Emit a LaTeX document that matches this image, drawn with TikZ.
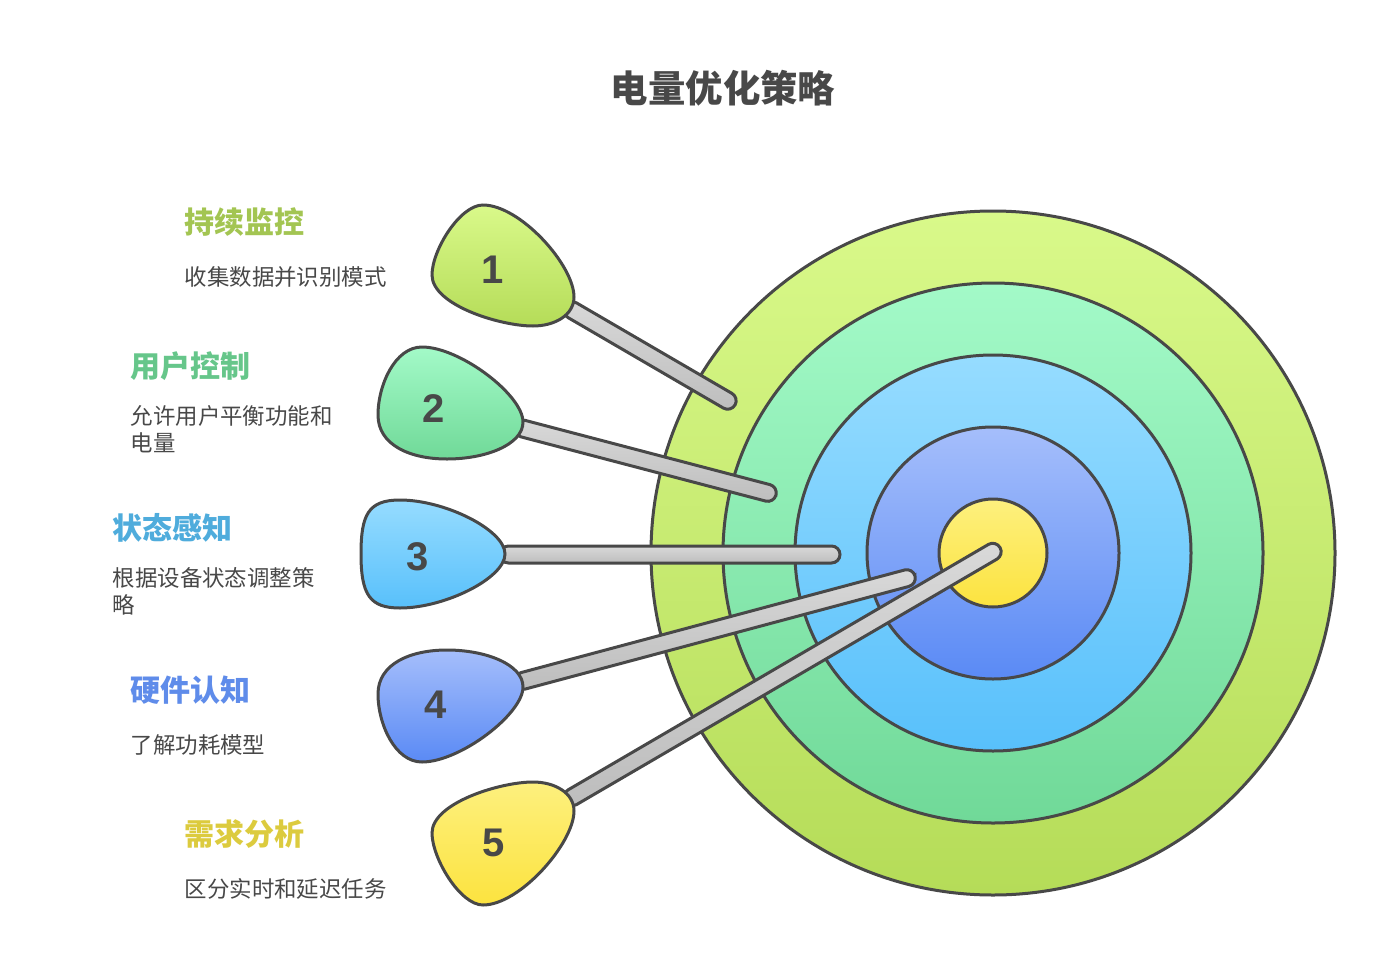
\documentclass[tikz,border=0pt]{standalone}
\usepackage{fontspec}
\usepackage{xcolor}
\usepackage{tikz}
\usetikzlibrary{calc}
\setmainfont{Noto Sans CJK SC}
\newfontfamily\digitfont{Liberation Sans}

\definecolor{ink}{HTML}{484848}
\definecolor{limetop}{HTML}{D9F98A}
\definecolor{limebot}{HTML}{B5DC58}
\definecolor{minttop}{HTML}{A3FAC8}
\definecolor{mintbot}{HTML}{70D998}
\definecolor{skytop}{HTML}{96DCFF}
\definecolor{skybot}{HTML}{58C0FB}
\definecolor{bluetop}{HTML}{A5BEFB}
\definecolor{bluebot}{HTML}{5A8AF5}
\definecolor{goldtop}{HTML}{FDF07E}
\definecolor{goldbot}{HTML}{FCE33F}
\definecolor{shafttop}{HTML}{D9D9D9}
\definecolor{shaftbot}{HTML}{BDBDBD}
\definecolor{limetext}{HTML}{A3C552}
\definecolor{minttext}{HTML}{66C68A}
\definecolor{skytext}{HTML}{4FACDC}
\definecolor{bluetext}{HTML}{5F8CEA}
\definecolor{goldtext}{HTML}{DCCB3E}

\tikzset{
  outline/.style={draw=ink, line width=3pt},
  lime/.style={outline, top color=limetop, bottom color=limebot},
  mint/.style={outline, top color=minttop, bottom color=mintbot},
  sky/.style={outline, top color=skytop, bottom color=skybot},
  azure/.style={outline, top color=bluetop, bottom color=bluebot},
  gold/.style={outline, top color=goldtop, bottom color=goldbot},
  shaft/.style={outline, top color=shafttop, bottom color=shaftbot, rounded corners=8.5pt},
  digit/.style={inner sep=0pt, text=ink, font=\digitfont\bfseries\fontsize{40}{40}\selectfont},
  heading/.style={anchor=west, inner sep=0pt, font=\bfseries\fontsize{30}{36}\selectfont},
  body/.style={anchor=west, inner sep=0pt, align=left, text=ink, font=\fontsize{22.45}{27}\selectfont},
}

\begin{document}
\begin{tikzpicture}[x=1pt, y=-1pt]
    \useasboundingbox (0,0) rectangle (1381,953);

    \coordinate (C) at (993,553);

    \draw[lime]  (C) circle[radius=342pt];
    \draw[mint]  (C) circle[radius=270pt];
    \draw[sky]   (C) circle[radius=198pt];
    \draw[azure] (C) circle[radius=126pt];
    \draw[gold]  (C) circle[radius=54pt];

    \coordinate (S1) at (565,306);
    \coordinate (S2) at (515,426.5);
    \coordinate (S3) at (500,554.5);
    \coordinate (S4) at (515,683);
    \coordinate (S5) at (565,801.5);

    \coordinate (T1) at (735,405);
    \coordinate (T2) at (776,495);
    \coordinate (T3) at (840,554.5);
    \coordinate (T4) at (915,576);
    \coordinate (T5) at (1000,547.5);

    \draw[shaft] ($(S1)!8.5pt!90:(T1)$) -- ($(T1)!8.5pt!-90:(S1)$)
    -- ($(T1)!8.5pt!90:(S1)$) -- ($(S1)!8.5pt!-90:(T1)$) -- cycle;
    \draw[shaft] ($(S2)!8.5pt!90:(T2)$) -- ($(T2)!8.5pt!-90:(S2)$)
    -- ($(T2)!8.5pt!90:(S2)$) -- ($(S2)!8.5pt!-90:(T2)$) -- cycle;
    \draw[shaft] ($(S3)!8.5pt!90:(T3)$) -- ($(T3)!8.5pt!-90:(S3)$)
    -- ($(T3)!8.5pt!90:(S3)$) -- ($(S3)!8.5pt!-90:(T3)$) -- cycle;
    \draw[shaft] ($(S4)!8.5pt!90:(T4)$) -- ($(T4)!8.5pt!-90:(S4)$)
    -- ($(T4)!8.5pt!90:(S4)$) -- ($(S4)!8.5pt!-90:(T4)$) -- cycle;
    \draw[shaft] ($(S5)!8.5pt!90:(T5)$) -- ($(T5)!8.5pt!-90:(S5)$)
    -- ($(T5)!8.5pt!90:(S5)$) -- ($(S5)!8.5pt!-90:(T5)$) -- cycle;

    \draw[lime] (483,205) .. controls (520,205) and (574,265) .. (574,297)
    .. controls (574,315) and (555,326) .. (533,326)
    .. controls (500,326) and (432,305) .. (432,275)
    .. controls (432,250) and (460,205) .. (483,205) -- cycle;
    \draw[mint] (422,347) .. controls (460,347) and (523,395) .. (523,422)
    .. controls (523,445) and (485,459) .. (447,459)
    .. controls (410,459) and (378,445) .. (378,415)
    .. controls (378,385) and (395,347) .. (422,347) -- cycle;
    \draw[sky] (400,500) .. controls (445,500) and (505,530) .. (505,554)
    .. controls (505,578) and (445,608) .. (400,608)
    .. controls (370,608) and (361,595) .. (361,554)
    .. controls (361,515) and (368,500) .. (400,500) -- cycle;
    \draw[azure] (422,762) .. controls (460,762) and (523,714) .. (523,687)
    .. controls (523,664) and (485,650) .. (447,650)
    .. controls (410,650) and (378,664) .. (378,694)
    .. controls (378,724) and (395,762) .. (422,762) -- cycle;
    \draw[gold] (483,905) .. controls (520,905) and (574,843) .. (574,811)
    .. controls (574,793) and (555,782) .. (533,782)
    .. controls (500,782) and (432,803) .. (432,833)
    .. controls (432,858) and (460,905) .. (483,905) -- cycle;

    \node[digit] (n1) at (492.5,269.5) {1};
    \node[digit] (n2) at (433.5,408.5) {2};
    \node[digit] (n3) at (418,557) {3};
    \node[digit] (n4) at (436,704.5) {4};
    \node[digit] (n5) at (493.5,843) {5};

    \node[inner sep=0pt, text=ink, font=\bfseries\fontsize{37.4}{44}\selectfont] (title) at (723,88) {电量优化策略};

    \node[heading, text=limetext] (h1) at (184,222) {持续监控};
    \node[body] (b1) at (184.5,277) {收集数据并识别模式};
    \node[heading, text=minttext] (h2) at (130.5,366) {用户控制};
    \node[body] (b2) at (130.5,429.5) {允许用户平衡功能和\\电量};
    \node[heading, text=skytext] (h3) at (112.5,528) {状态感知};
    \node[body] (b3) at (112.5,591.5) {根据设备状态调整策\\略};
    \node[heading, text=bluetext] (h4) at (130.5,690) {硬件认知};
    \node[body] (b4) at (130.5,745) {了解功耗模型};
    \node[heading, text=goldtext] (h5) at (184,834) {需求分析};
    \node[body] (b5) at (184.5,889) {区分实时和延迟任务};
  \end{tikzpicture}
\end{document}
